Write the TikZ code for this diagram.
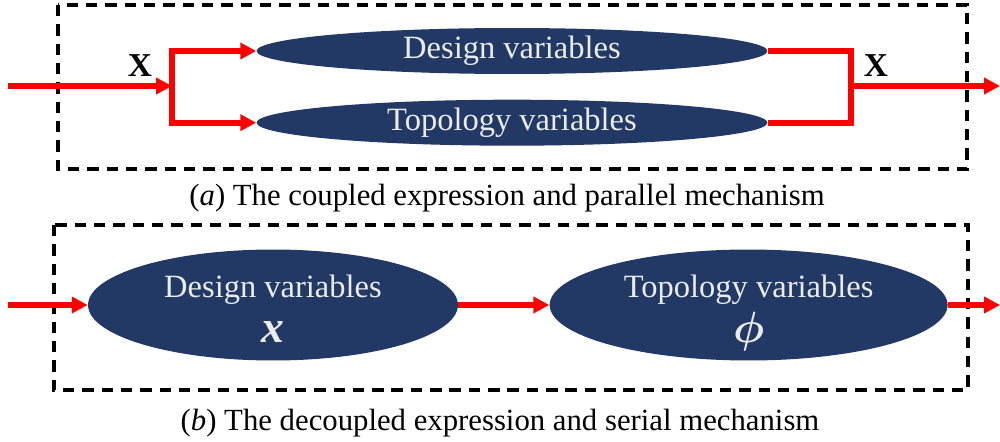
\documentclass[tikz,border=0pt]{standalone}
\usepackage{fontspec}
\setmainfont{Liberation Serif}
\usepackage{amsmath,bm}
\usetikzlibrary{arrows.meta,positioning,shapes.geometric}
\definecolor{navy}{RGB}{33,57,100}

\begin{document}
\begin{tikzpicture}[x=0.02cm, y=-0.02cm,
    var/.style={ellipse, fill=navy, text=white!92!black, inner sep=0pt,
                align=center, font=\fontsize{18.5}{22}\selectfont},
    flow/.style={red, line width=3.4pt},
    flowarrow/.style={flow, -{Triangle[length=9pt,width=9pt]}},
    frame/.style={line width=1.8pt, dash pattern=on 6.5pt off 4.5pt},
    caption/.style={font=\fontsize{17.5}{21}\selectfont},
    varlabel/.style={font=\fontsize{19}{22}\selectfont\bfseries}]

    \useasboundingbox (0,0) rectangle (1000,442);

    % (a) coupled expression and parallel mechanism
    \draw[frame] (58,5) rectangle (967,169);
    \node[var, minimum width=10.22cm, minimum height=0.92cm] (dva) at (512,51) {Design variables};
    \node[var, minimum width=10.22cm, minimum height=0.92cm, below=0.5cm of dva] (tva) {Topology variables};

    \coordinate (ina) at (8,86);
    \coordinate (jla) at (172,86);
    \coordinate (jra) at (851,86);
    \coordinate (outa) at (1000,86);

    \draw[flowarrow] (ina) -- (jla);
    \draw[flowarrow] (jla) |- (dva.west);
    \draw[flowarrow] (jla) |- (tva.west);
    \draw[flow] (dva.east) -| (jra) |- (tva.east);
    \draw[flowarrow] (jra) -- (outa);

    \node[varlabel] (xin) at (140,66) {X};
    \node[varlabel] (xout) at (876,66) {X};

    \node[caption] (capa) at (507,198) {(\textit{a}) The coupled expression and parallel mechanism};

    % (b) decoupled expression and serial mechanism
    \draw[frame] (54,225) rectangle (968,390);
    \node[var, minimum width=7.4cm, minimum height=2.22cm, inner ysep=-14pt] (dvb) at (273,305)
        {\rule{0pt}{22pt}Design variables\\[4pt]{\fontsize{26}{26}\selectfont\textbf{\textit{x}}\vphantom{$\bm{\phi}$}}};
    \node[var, minimum width=7.96cm, minimum height=2.22cm, inner ysep=-14pt, right=1.82cm of dvb] (tvb)
        {\rule{0pt}{22pt}Topology variables\\[4pt]{\fontsize{26}{26}\selectfont$\bm{\phi}$}};

    \coordinate (inb) at (8,305);
    \coordinate (outb) at (1000,305);

    \draw[flowarrow] (inb) -- (dvb.west);
    \draw[flowarrow] (dvb.east) -- (tvb.west);
    \draw[flowarrow] (tvb.east) -- (outb);

    \node[caption] (capb) at (500,423) {(\textit{b}) The decoupled expression and serial mechanism};
\end{tikzpicture}
\end{document}
